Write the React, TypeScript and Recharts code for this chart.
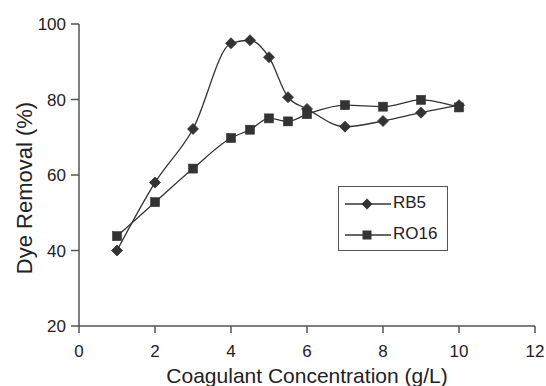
import React from 'react';
import {
  LineChart,
  Line,
  XAxis,
  YAxis,
} from 'recharts';

const concentrations = [1, 2, 3, 4, 4.5, 5, 5.5, 6, 7, 8, 9, 10];
const rb5 = [40, 58, 72.2, 94.9, 95.7, 91.2, 80.6, 77.5, 72.8, 74.3, 76.5, 78.5];
const ro16 = [43.8, 52.8, 61.7, 69.8, 72, 75, 74.2, 76.1, 78.5, 78.1, 79.9, 77.9];
const xTicks = [0, 2, 4, 6, 8, 10, 12];
const yTicks = [20, 40, 60, 80, 100];

const chartData = concentrations.map((c, i) => ({
  conc: c,
  RB5: rb5[i],
  RO16: ro16[i],
}));

const FONT = '"Liberation Sans", Arial, Helvetica, sans-serif';
const INK = '#333333';
const AXIS = '#555555';

const Diamond = (props: any) => {
  const { cx, cy, index } = props;
  const r = 5.5;
  return (
    <path
      key={`d-${index}`}
      d={`M${cx},${cy - r}L${cx + r},${cy}L${cx},${cy + r}L${cx - r},${cy}Z`}
      fill={INK}
      stroke={INK}
      strokeWidth={0.8}
    />
  );
};

const Square = (props: any) => {
  const { cx, cy, index } = props;
  const s = 4.5;
  return (
    <rect
      key={`s-${index}`}
      x={cx - s}
      y={cy - s}
      width={s * 2}
      height={s * 2}
      fill={INK}
      stroke={INK}
      strokeWidth={0.6}
    />
  );
};

// legend drawn outside the chart so it doesn't eat plot space
const LegendBox = () => (
  <div
    style={{
      position: 'absolute',
      left: 338,
      top: 186,
      width: 110,
      height: 65,
      border: `1.5px solid ${AXIS}`,
      boxSizing: 'border-box',
      background: '#fff',
      fontFamily: FONT,
      fontSize: 17,
      color: '#222',
    }}
  >
    <svg width={60} height={62} style={{ position: 'absolute', left: 0, top: 0 }}>
      <line x1={6} y1={17} x2={52} y2={17} stroke={INK} strokeWidth={1.3} />
      <path d="M28,11.5L33.5,17L28,22.5L22.5,17Z" fill={INK} />
      <line x1={6} y1={48} x2={52} y2={48} stroke={INK} strokeWidth={1.3} />
      <rect x={23.5} y={43.5} width={9} height={9} fill={INK} />
    </svg>
    <div style={{ position: 'absolute', left: 54, top: 6, lineHeight: '20px' }}>RB5</div>
    <div style={{ position: 'absolute', left: 54, top: 37, lineHeight: '20px' }}>RO16</div>
  </div>
);

const YTitle = () => (
  <text
    x={32}
    y={188}
    transform="rotate(-90 32 188)"
    textAnchor="middle"
    fontFamily={FONT}
    fontSize={22}
    fill="#222"
  >
    Dye Removal (%)
  </text>
);

export default function App() {
  return (
    <div style={{ position: 'absolute', left: 0, top: 0, width: 546, height: 386, background: '#fff' }}>
      <LineChart
        width={546}
        height={386}
        data={chartData}
        margin={{ top: 24, right: 11, left: 0, bottom: 0 }}
      >
        <XAxis
          dataKey="conc"
          type="number"
          domain={[0, 12]}
          ticks={xTicks}
          height={60}
          stroke={AXIS}
          strokeWidth={1.5}
          tickSize={7}
          tickMargin={12}
          tick={{ fill: '#222', fontSize: 17, fontFamily: FONT }}
          label={{
            value: 'Coagulant Concentration (g/L)',
            position: 'insideBottom',
            offset: 3,
            fill: '#222',
            fontSize: 21,
            fontFamily: FONT,
          }}
        />
        <YAxis
          type="number"
          domain={[20, 100]}
          ticks={yTicks}
          width={79}
          stroke={AXIS}
          strokeWidth={1.5}
          tickSize={8}
          tickMargin={5}
          tick={{ fill: '#222', fontSize: 17, fontFamily: FONT }}
          label={{ content: () => <YTitle /> }}
        />
        <Line
          type="monotone"
          dataKey="RB5"
          stroke={INK}
          strokeWidth={1.3}
          dot={Diamond}
          activeDot={false}
          isAnimationActive={false}
        />
        <Line
          type="monotone"
          dataKey="RO16"
          stroke={INK}
          strokeWidth={1.3}
          dot={Square}
          activeDot={false}
          isAnimationActive={false}
        />
      </LineChart>
      <LegendBox />
    </div>
  );
}
